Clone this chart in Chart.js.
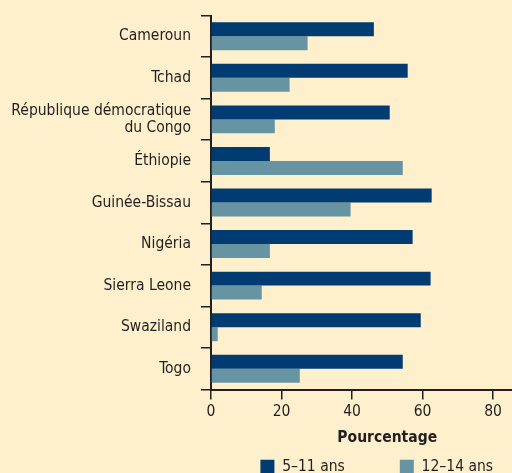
<!DOCTYPE html>
<html>
<head>
<meta charset="utf-8">
<script src="https://cdn.jsdelivr.net/npm/chart.js@4/dist/chart.umd.min.js"></script>
<style>
  html, body { margin: 0; padding: 0; overflow: hidden; background: #fef0cc; }
  canvas { display: block; }
</style>
</head>
<body>
<canvas id="chart" width="580" height="530"></canvas>
<script>
const countries = ['Cameroun', 'Tchad', ['République démocratique', 'du Congo'], 'Éthiopie',
    'Guinée-Bissau', 'Nigéria', 'Sierra Leone', 'Swaziland', 'Togo'];
const age5to11 = [46.2, 55.8, 50.7, 16.7, 62.6, 57.2, 62.3, 59.5, 54.4];
const age12to14 = [27.4, 22.3, 18.1, 54.4, 39.6, 16.7, 14.4, 1.9, 25.2];
const seriesLabels = ['5–11 ans', '12–14 ans'];
const xTicks = [0, 20, 40, 60, 80, 100];

const fontFamily = "'DejaVu Sans Condensed', 'Liberation Sans Narrow', sans-serif";
const ink = '#231f20';

// move the legend up under the axis title
const legendShift = {
    id: 'legendShift',
    afterLayout(chart) {
        const lg = chart.legend;
        lg.top -= 45.5; lg.bottom -= 45.5;
        lg.left -= 10.5; lg.right -= 10.5;
    }
};

const ctx = document.getElementById('chart').getContext('2d');
new Chart(ctx, {
    type: 'bar',
    data: {
        labels: countries,
        datasets: [{
            label: seriesLabels[0],
            data: age5to11,
            backgroundColor: '#003c71',
            borderWidth: 0
        }, {
            label: seriesLabels[1],
            data: age12to14,
            backgroundColor: '#6794a3',
            borderWidth: 0
        }]
    },
    options: {
        indexAxis: 'y',
        responsive: false,
        animation: false,
        categoryPercentage: 0.673,
        barPercentage: 1,
        layout: { padding: { left: 0, top: 15.5, right: 16.5, bottom: 0 } },
        plugins: {
            legend: {
                position: 'bottom',
                fullSize: false,
                labels: {
                    boxWidth: 14,
                    boxHeight: 14,
                    padding: 55,
                    color: ink,
                    font: { family: fontFamily, size: 15.5 }
                }
            },
            tooltip: { enabled: false }
        },
        scales: {
            x: {
                min: 0,
                max: 100,
                afterBuildTicks: scale => { scale.ticks = xTicks.map(v => ({ value: v })); },
                afterFit: scale => { scale.height = 60; },
                grid: { drawOnChartArea: false, tickLength: 10, color: ink, lineWidth: 1.5 },
                border: { color: ink, width: 2 },
                ticks: { color: ink, padding: 3, font: { family: fontFamily, size: 15.5 } },
                title: {
                    display: true,
                    text: 'Pourcentage',
                    color: ink,
                    padding: { top: 0, bottom: 2 },
                    font: { family: fontFamily, size: 15.5, weight: 'bold' }
                }
            },
            y: {
                afterFit: scale => {
                    scale.width = 211;
                    scale.paddingTop = 0;
                    scale.paddingBottom = 0;
                },
                grid: { drawOnChartArea: false, tickLength: 10, color: ink, lineWidth: 1.5 },
                border: { color: ink, width: 2 },
                ticks: { color: ink, padding: 10, font: { family: fontFamily, size: 15.5, lineHeight: 1.1 } }
            }
        }
    },
    plugins: [legendShift]
});
</script>
</body>
</html>
